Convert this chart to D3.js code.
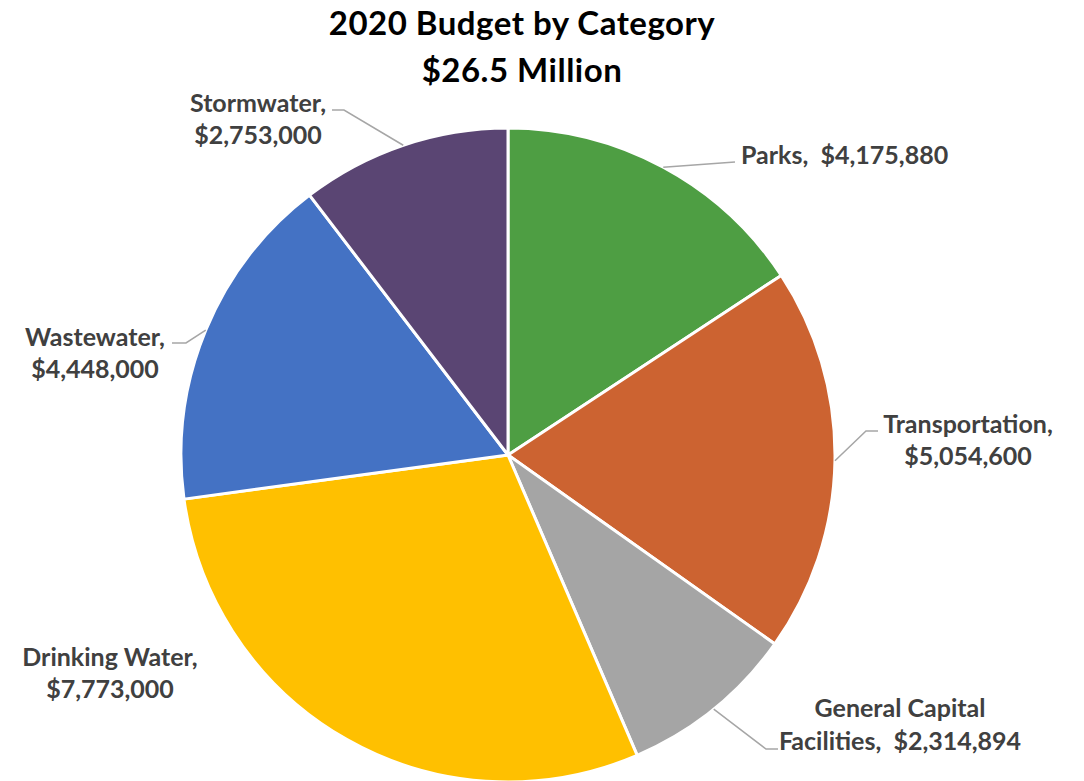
<!DOCTYPE html>
<html><head><meta charset="utf-8">
<script src="https://cdn.jsdelivr.net/npm/d3@7"></script>
<style>
html,body{margin:0;padding:0;background:#fff;}
svg{display:block;font-family:Lato,"Open Sans",sans-serif;}
text{white-space:pre;}
</style></head>
<body>
<svg id="chart" width="1084" height="781"></svg>
<script>
const categories = ["Parks","Transportation","General Capital Facilities","Drinking Water","Wastewater","Stormwater"];
const values = [4175880,5054600,2314894,7773000,4448000,2753000];
const valueLabels = ["$4,175,880","$5,054,600","$2,314,894","$7,773,000","$4,448,000","$2,753,000"];
const colors = ["#4E9E43","#CC6331","#A5A5A5","#FFC000","#4472C4","#5A4573"];
const titleLines = ["2020 Budget by Category","$26.5 Million"];

// label layout: text lines, anchor position, leader elbow (null = no leader)
const labelLayout = [
  {lines:["Parks,  $4,175,880"], x:741, y:164, gap:32, anchor:"start", elbow:[735,162], end:[735,162]},
  {lines:["Transportation,","$5,054,600"], x:968, y:433, gap:32, anchor:"middle", elbow:[866,431], end:[878,431]},
  {lines:["General Capital","Facilities,  $2,314,894"], x:900, y:717, gap:33, anchor:"middle", elbow:[766,749], end:[778,749]},
  {lines:["Drinking Water,","$7,773,000"], x:110, y:666, gap:32, anchor:"middle", elbow:null},
  {lines:["Wastewater,","$4,448,000"], x:95, y:346, gap:32, anchor:"middle", elbow:[186,343], end:[172,343]},
  {lines:["Stormwater,","$2,753,000"], x:258, y:112, gap:32, anchor:"middle", elbow:[344,110], end:[332,110]}
];

const svg = d3.select("#chart");
const cx = 508, cy = 455, R = 327;

svg.append("g").selectAll("text").data(titleLines).join("text")
  .attr("x", 522).attr("y", (d,i)=>35+i*47)
  .attr("text-anchor","middle").attr("font-size",33).attr("font-weight",700)
  .attr("letter-spacing",0.5).attr("fill","#000")
  .text(d=>d);

const pie = d3.pie().sort(null).value(d=>d);
const arcs = pie(values);
const arc = d3.arc().innerRadius(0).outerRadius(R);

const g = svg.append("g").attr("transform",`translate(${cx},${cy})`);
g.selectAll("path").data(arcs).join("path")
  .attr("d", arc).attr("fill",(d,i)=>colors[i])
  .attr("stroke","#fff").attr("stroke-width",3).attr("stroke-linejoin","round");

// leaders
arcs.forEach((a,i)=>{
  const L = labelLayout[i];
  if(!L.elbow) return;
  const mid = (a.startAngle+a.endAngle)/2;
  const sx = cx + R*Math.sin(mid), sy = cy - R*Math.cos(mid);
  svg.append("polyline")
    .attr("points", [[sx,sy],L.elbow,L.end].map(p=>p.join(",")).join(" "))
    .attr("fill","none").attr("stroke","#A6A6A6").attr("stroke-width",1.5);
});

// labels
labelLayout.forEach((L,i)=>{
  const t = svg.append("text").attr("text-anchor",L.anchor)
    .attr("font-size",25).attr("font-weight",700).attr("fill","#404040");
  L.lines.forEach((ln,j)=>{
    t.append("tspan").attr("x",L.x).attr("y",L.y+j*L.gap).text(ln);
  });
});
</script>
</body></html>
